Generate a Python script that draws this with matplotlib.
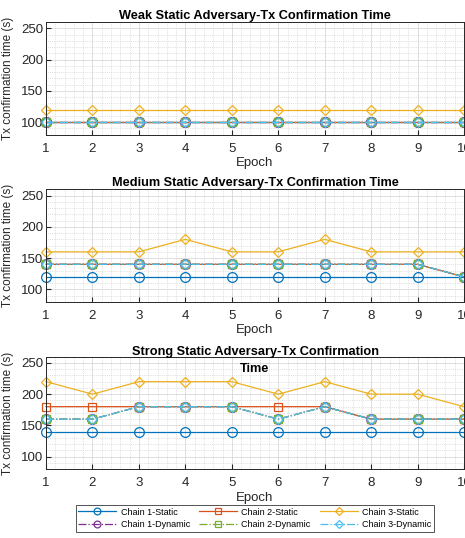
import numpy as np
import matplotlib.pyplot as plt
from matplotlib.ticker import MultipleLocator

plt.rcParams['font.family'] = ['Liberation Sans', 'DejaVu Sans']

# -----------------------------
# Data
# -----------------------------
epochs = np.arange(1, 11)

titles = [
    "Weak Static Adversary-Tx Confirmation Time",
    "Medium Static Adversary-Tx Confirmation Time",
    "Strong Static Adversary-Tx Confirmation\nTime",
]

# weak
weak_c1s = [100] * 10
weak_c2s = [100] * 10
weak_c3s = [120] * 10
weak_c1d = [100] * 10
weak_c2d = [100] * 10
weak_c3d = [100] * 10

# medium
med_c1s = [120] * 10
med_c2s = [140, 140, 140, 140, 140, 140, 140, 140, 140, 120]
med_c3s = [160, 160, 160, 180, 160, 160, 180, 160, 160, 160]
med_c1d = [140, 140, 140, 140, 140, 140, 140, 140, 140, 120]
med_c2d = [140, 140, 140, 140, 140, 140, 140, 140, 140, 120]
med_c3d = [140, 140, 140, 140, 140, 140, 140, 140, 140, 120]

# strong
str_c1s = [140] * 10
str_c2s = [180, 180, 180, 180, 180, 180, 180, 160, 160, 160]
str_c3s = [220, 200, 220, 220, 220, 200, 220, 200, 200, 180]
str_c1d = [160, 160, 180, 180, 180, 160, 180, 160, 160, 160]
str_c2d = [160, 160, 180, 180, 180, 160, 180, 160, 160, 160]
str_c3d = [160, 160, 180, 180, 180, 160, 180, 160, 160, 160]

panels = [
    (weak_c1s, weak_c2s, weak_c3s, weak_c1d, weak_c2d, weak_c3d),
    (med_c1s, med_c2s, med_c3s, med_c1d, med_c2d, med_c3d),
    (str_c1s, str_c2s, str_c3s, str_c1d, str_c2d, str_c3d),
]

labels = ["Chain 1-Static", "Chain 2-Static", "Chain 3-Static",
          "Chain 1-Dynamic", "Chain 2-Dynamic", "Chain 3-Dynamic"]
colors = ["#0072BD", "#D95319", "#EDB120", "#7E2F8E", "#77AC30", "#4DBEEE"]
markers = ["o", "s", "D", "o", "s", "D"]
msizes = [7, 6, 5.5, 7, 6, 5.5]
styles = ["-", "-", "-", "-.", "-.", "-."]

# -----------------------------
# Plot
# -----------------------------
fig = plt.figure(figsize=(4.65, 5.38), dpi=100)
boxes = [(0.099, 0.750, 0.899, 0.209),
         (0.099, 0.439, 0.899, 0.209),
         (0.099, 0.128, 0.899, 0.209)]

handles = []
for i, (box, data) in enumerate(zip(boxes, panels)):
    ax = fig.add_axes(box)
    hs = []
    for j in range(6):
        h, = ax.plot(epochs, data[j], linestyle=styles[j], color=colors[j],
                     marker=markers[j], markerfacecolor='none', markersize=msizes[j],
                     linewidth=0.9, markeredgewidth=0.9, clip_on=False)
        hs.append(h)
    if i == 0:
        handles = hs
    ax.set_xlim(1, 10)
    ax.set_ylim(80, 260)
    ax.xaxis.set_major_locator(MultipleLocator(1))
    ax.xaxis.set_minor_locator(MultipleLocator(0.2))
    ax.yaxis.set_major_locator(MultipleLocator(50))
    ax.yaxis.set_minor_locator(MultipleLocator(10))
    ax.grid(True, which='major', color='#d9d9d9', linewidth=0.6)
    ax.grid(True, which='minor', color='#c8c8c8', linestyle=':', linewidth=0.5)
    ax.set_axisbelow(True)
    ax.tick_params(axis='both', which='both', direction='in', labelsize=9.5,
                   colors='#262626', top=False, right=False)
    ax.tick_params(axis='x', pad=6)
    ax.tick_params(axis='y', pad=2)
    ax.tick_params(which='minor', length=0)
    for s in ax.spines.values():
        s.set_color('#262626')
        s.set_linewidth(0.7)
    ax.set_xlabel("Epoch", fontsize=9.5, color='#262626', labelpad=1.5)
    ax.set_ylabel("Tx confirmation time (s)", fontsize=8.5, color='#262626')
    ax.yaxis.set_label_coords(-0.077, 0.5)
    if i == 2:
        ax.set_title(titles[i], fontsize=9.2, fontweight='bold', pad=2,
                     y=0.84, linespacing=1.5)
    else:
        ax.set_title(titles[i], fontsize=9.2, fontweight='bold', pad=2)

order = [0, 3, 1, 4, 2, 5]
leg = fig.legend([handles[k] for k in order], [labels[k] for k in order],
                 ncol=3, loc='lower center', bbox_to_anchor=(0.548, 0.003),
                 fontsize=6.5, frameon=True, fancybox=False, edgecolor='#262626',
                 handlelength=4.2, columnspacing=1.0, handletextpad=0.5,
                 borderpad=0.3, labelspacing=0.4, markerscale=0.7)
leg.get_frame().set_linewidth(0.7)

fig.savefig("out.png", dpi=100)
